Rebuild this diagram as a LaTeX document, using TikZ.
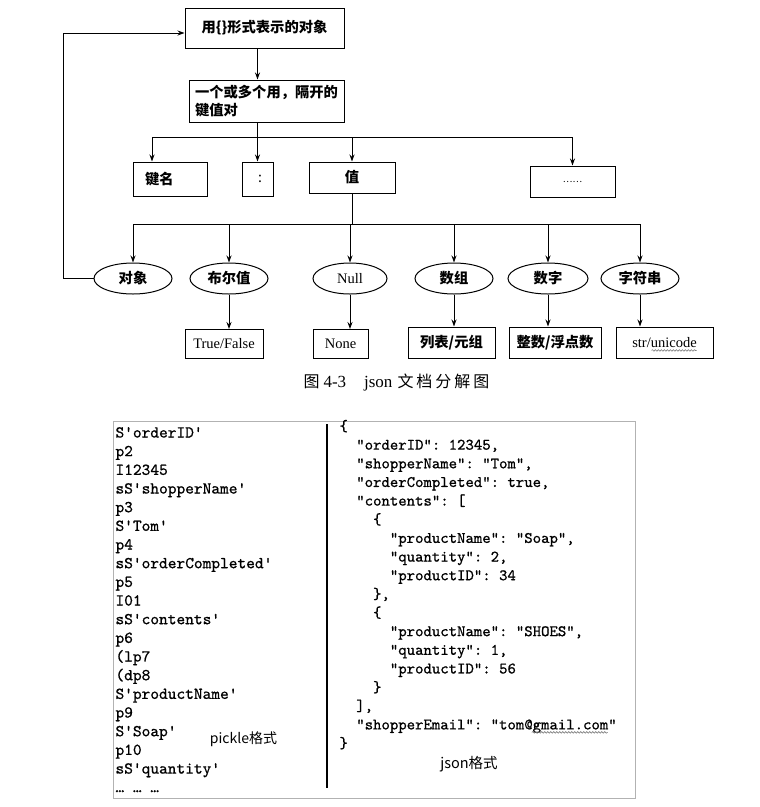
\documentclass[tikz,border=0pt]{standalone}
\usepackage{fontspec}
\setmainfont{Liberation Serif}
\setmonofont{lmmono10-regular.otf}[FakeBold=0.8]
\newfontfamily\cjk{Noto Sans CJK SC}
\usetikzlibrary{arrows.meta,shapes.geometric,calc,decorations.pathmorphing}
\begin{document}
\begin{tikzpicture}[x=1pt,y=-1pt,line width=1pt,
  >={Stealth[length=7pt,width=5pt]},
  box/.style={draw,line width=1pt,inner sep=0pt,align=center},
  cjkb/.style={font=\cjk\bfseries\fontsize{14.3}{18}\selectfont},
  rom/.style={font=\rmfamily\fontsize{14.5}{17}\selectfont},
  oval/.style={draw,ellipse,line width=1pt,inner sep=0pt,minimum width=78pt,minimum height=31pt},
  code/.style={font=\ttfamily\fontsize{16.6}{18}\selectfont,inner sep=0pt,anchor=base west},
  codeb/.style={font=\ttfamily\fontsize{16}{18}\selectfont,inner sep=0pt,anchor=base west},
  squig/.style={decorate,decoration={snake,amplitude=0.8pt,segment length=3pt},gray,line width=0.6pt},
  lbl/.style={font=\cjk\fontsize{14}{16}\selectfont,anchor=base,inner sep=0pt}]
\fill[white] (0,0) rectangle (760,807);
\useasboundingbox (0,0) rectangle (760,807);

% ---- upper diagram ----
\node[box,cjkb,minimum width=159pt,minimum height=40pt] (top) at (264.5,28) {用\{\}形式表示的对象};
\node[box,cjkb,minimum width=155pt,minimum height=42pt,align=left] (kv) at (266.5,101) {一个或多个用，隔开的\\键值对};
\node[box,cjkb,minimum width=74pt,minimum height=34pt,text width=50pt,align=left] (key) at (170,179) {键名};
\node[box,font=\cjk\fontsize{14}{18}\selectfont,minimum width=31pt,minimum height=34pt] (colon) at (257.5,179) {\hspace{5pt}:};
\node[box,cjkb,minimum width=86pt,minimum height=31pt] (val) at (352,177.5) {值};
\node[box,minimum width=85pt,minimum height=31pt,font=\cjk\fontsize{9}{10}\selectfont] (more) at (572.5,181.5) {……};

\node[oval,cjkb] (obj) at (133,278.5) {对象};
\node[oval,cjkb] (bool) at (229,278.5) {布尔值};
\node[oval,rom,minimum width=74pt] (null) at (350,278.5) {Null};
\node[oval,cjkb] (arr) at (454,278.5) {数组};
\node[oval,cjkb,minimum width=80pt] (num) at (548,278.5) {数字};
\node[oval,cjkb] (str) at (640,278.5) {字符串};

\node[box,rom,minimum width=78pt,minimum height=29pt] (tf) at (224,344) {True/False};
\node[box,rom,minimum width=55pt,minimum height=29pt] (none) at (340.5,344) {None};
\node[box,cjkb,minimum width=87pt,minimum height=31pt] (list) at (451.5,342.5) {列表/元组};
\node[box,cjkb,minimum width=92pt,minimum height=31pt] (int) at (555,342.5) {整数/浮点数};
\node[box,rom,minimum width=97pt,minimum height=31pt] (su) at (664.5,342.5) {str/unicode};
\draw[squig] ($(su.base)+(-13,3)$) -- ($(su.base)+(32,3)$);

\draw[->] (colon.north |- top.south) -- (colon.north |- kv.north);
\coordinate (b1l) at (152,137);
\coordinate (b1r) at (572.5,137);
\draw (colon.north |- kv.south) -- (colon.north |- b1l);
\draw (b1l) -- (b1r);
\draw[->] (b1l) -- (b1l |- key.north);
\draw[->] (colon.north |- b1l) -- (colon.north);
\draw[->] (val.north |- b1l) -- (val.north);
\draw[->] (more.north |- b1l) -- (more.north);

\coordinate (b2l) at (133,224);
\coordinate (b2r) at (640,224);
\draw (val.south) -- (val.south |- b2l);
\draw (b2l) -- (b2r);
\foreach \n in {obj,bool,null,arr,num,str} \draw[->] (\n.north |- b2l) -- (\n.north);

\draw[->] (bool.south) -- (bool.south |- tf.north);
\draw[->] (null.south) -- (null.south |- none.north);
\draw[->] (arr.south) -- (arr.south |- list.north);
\draw[->] (num.south) -- (num.south |- int.north);
\draw[->] (str.south) -- (str.south |- su.north);

\draw[->] (obj.west) -- ++(-30,0) |- ([yshift=-5pt]top.west);

\node[anchor=base,inner sep=0pt] (cap) at (396.5,387) {\cjk\fontsize{16}{18}\selectfont 图\hspace{4pt}\rmfamily\fontsize{17}{18}\selectfont 4-3\hspace{18pt}json\hspace{5pt}\cjk\fontsize{16}{18}\selectfont 文\kern3pt档\kern3pt分\kern3pt解\kern3pt图};

% ---- lower panel ----
\draw[gray!60,line width=0.8pt] (113,421) rectangle (635,798);
\draw[line width=1.5pt] (327,424) -- (327,788);

\foreach \t [count=\i from 0] in {S'orderID',p2,I12345,sS'shopperName',p3,S'Tom',p4,sS'orderCompleted',p5,I01,sS'contents',p6,{(lp7},{(dp8},S'productName',p9,S'Soap',p10,sS'quantity',… … …}
  \node[code] (pk\i) at (115,{437.5+18.67*\i}) {\t};

\foreach \d/\t [count=\i from 0] in {0/\{,1/{"orderID": 12345,},1/{"shopperName": "Tom",},1/{"orderCompleted": true,},1/{"contents": [},2/\{,3/{"productName": "Soap",},3/{"quantity": 2,},3/{"productID": 34},2/{\},},2/\{,3/{"productName": "SHOES",},3/{"quantity": 1,},3/{"productID": 56},2/\},1/{],},1/{"shopperEmail": "tom@gmail.com"},0/\}}
  \node[codeb] (js\i) at ({339+16.8*\d},{431+18.65*\i}) {\t};
\draw[squig] ($(js16.base west)+(176,3)$) -- ($(js16.base west)+(252,3)$);

\node[lbl] (pl) at (243.5,743) {pickle格式};
\node[lbl,font=\cjk\fontsize{14.5}{16}\selectfont] (jl) at (469,768) {json格式};
\end{tikzpicture}
\end{document}
